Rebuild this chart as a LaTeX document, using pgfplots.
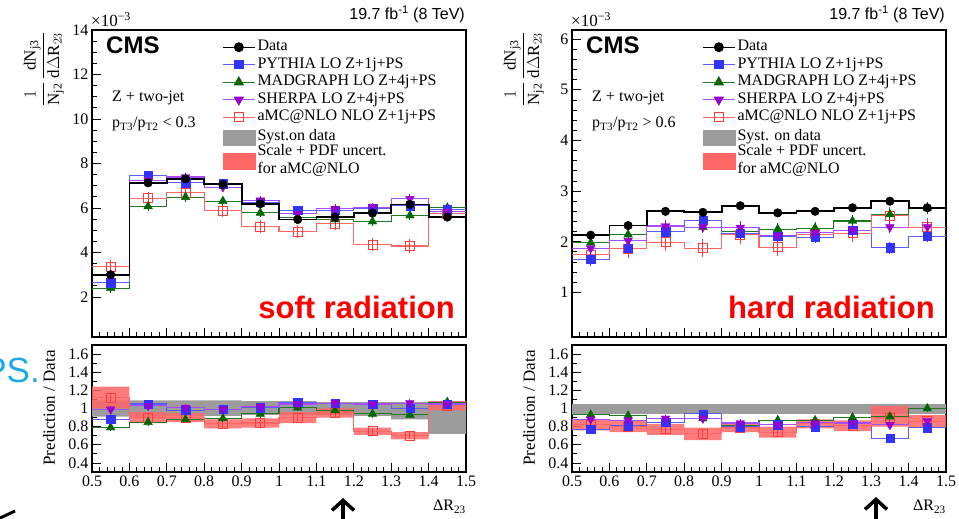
\documentclass[border=0pt]{standalone}
\usepackage{pgfplots}
\pgfplotsset{compat=1.18}
\usepackage{pgfplotstable}
\usetikzlibrary{arrows.meta}
\usepackage{fontspec}
\setmainfont{Liberation Serif}
\newfontfamily\helv{Liberation Sans}
\definecolor{cblue}{HTML}{3333FF}
\definecolor{cblueL}{HTML}{5C5CFF}
\definecolor{cgreen}{HTML}{006600}
\definecolor{cgreenL}{HTML}{1F7A1F}
\definecolor{cpurple}{HTML}{9900CC}
\definecolor{cpurpleL}{HTML}{A64DFF}
\definecolor{cred}{HTML}{FF3B3B}
\definecolor{credL}{HTML}{FF6666}
\definecolor{cband}{HTML}{FF6666}
\definecolor{cgray}{HTML}{9C9C9C}
\definecolor{ccyan}{HTML}{1BA8E6}
\newcommand\lf{\fontsize{16}{18}\selectfont}

\pgfplotstableread{
lo c dat py mg sh amc ed em ea
0.5 0.55 3.00 2.64 2.40 2.95 3.37 0.06 0.20 0.30
0.6 0.65 7.13 7.46 6.07 7.24 6.44 0.10 0.20 0.30
0.7 0.75 7.31 7.13 6.49 7.39 6.68 0.10 0.20 0.30
0.8 0.85 7.06 7.09 6.31 6.94 5.89 0.10 0.20 0.30
0.9 0.95 6.19 6.26 5.78 6.34 5.17 0.10 0.20 0.30
1.0 1.05 5.48 5.89 5.59 5.74 4.94 0.10 0.20 0.30
1.1 1.15 5.59 5.89 5.48 5.96 5.29 0.10 0.20 0.30
1.2 1.25 5.77 5.96 5.39 6.04 4.35 0.10 0.20 0.30
1.3 1.35 6.16 6.11 5.66 6.41 4.29 0.10 0.20 0.30
1.4 1.45 5.59 5.92 6.01 5.84 5.74 0.10 0.20 0.30
1.5 1.55 5.59 5.92 6.01 5.84 5.74 0 0 0
}\softU

\pgfplotstableread{
lo c py mg sh amc e
0.5 0.55 0.88 0.79 0.99 1.12 0.04
0.6 0.65 1.05 0.85 1.03 0.90 0.04
0.7 0.75 0.98 0.88 1.01 0.90 0.04
0.8 0.85 0.99 0.89 0.99 0.83 0.04
0.9 0.95 1.01 0.94 1.02 0.84 0.04
1.0 1.05 1.07 1.01 1.05 0.90 0.04
1.1 1.15 1.06 0.98 1.06 0.95 0.04
1.2 1.25 1.05 0.94 1.05 0.75 0.04
1.3 1.35 1.00 0.93 1.06 0.70 0.04
1.4 1.45 1.05 1.07 1.05 1.03 0.04
1.5 1.55 1.05 1.07 1.05 1.03 0
}\softR

\pgfplotstableread{
lo c dat py mg sh amc ed em ea
0.5 0.55 2.13 1.65 1.98 1.87 1.74 0.05 0.12 0.18
0.6 0.65 2.32 1.87 2.14 2.02 1.86 0.05 0.12 0.18
0.7 0.75 2.60 2.20 2.20 2.31 1.99 0.05 0.12 0.18
0.8 0.85 2.58 2.42 2.29 2.29 1.87 0.05 0.12 0.18
0.9 0.95 2.71 2.17 2.20 2.28 2.14 0.05 0.12 0.18
1.0 1.05 2.57 2.11 2.25 2.12 1.89 0.05 0.12 0.18
1.1 1.15 2.60 2.09 2.27 2.18 2.15 0.05 0.12 0.18
1.2 1.25 2.67 2.23 2.41 2.23 2.17 0.05 0.12 0.18
1.3 1.35 2.80 1.88 2.54 2.29 2.51 0.05 0.12 0.18
1.4 1.45 2.67 2.11 2.67 2.29 2.29 0.05 0.12 0.18
1.5 1.55 2.67 2.11 2.67 2.29 2.29 0 0 0
}\hardU

\pgfplotstableread{
lo c py mg sh amc e
0.5 0.55 0.77 0.93 0.88 0.82 0.04
0.6 0.65 0.81 0.92 0.87 0.80 0.04
0.7 0.75 0.85 0.85 0.89 0.77 0.04
0.8 0.85 0.94 0.89 0.89 0.72 0.04
0.9 0.95 0.80 0.81 0.84 0.79 0.04
1.0 1.05 0.82 0.87 0.82 0.74 0.04
1.1 1.15 0.80 0.87 0.84 0.83 0.04
1.2 1.25 0.83 0.90 0.84 0.81 0.04
1.3 1.35 0.67 0.91 0.82 0.90 0.04
1.4 1.45 0.79 1.00 0.86 0.86 0.04
1.5 1.55 0.79 1.00 0.86 0.86 0
}\hardR

\pgfplotsset{
 cmsax/.style={
  scale only axis, width=374pt, anchor=south west,
  xmin=0.5, xmax=1.5,
  xtick={0.5,0.6,0.7,0.8,0.9,1,1.1,1.2,1.3,1.4,1.5},
  minor x tick num=4,
  tick align=inside, xtick pos=left, ytick pos=left,
  axis line style={line width=1.3pt},
  tick style={black, line width=0.8pt},
  major tick length=9pt, minor tick length=4.5pt,
  tick label style={font=\lf},
  /pgf/number format/assume math mode=true,
  scaled y ticks=false,
 },
 hist/.style={const plot mark left, no marks, forget plot, line width=1.1pt},
 mk/.style={only marks, forget plot, skip coords between index={10}{11},
   error bars/.cd, y dir=both, y explicit, error mark=none,
   error bar style={line width=0.9pt}},
 legimg/.style={legend image code/.code={\draw[mark repeat=2,mark phase=2,##1] plot coordinates {(0pt,0pt)(16pt,0pt)(32pt,0pt)};}},
 boxgray/.style={legend image code/.code={\fill[cgray,overlay] (0pt,-10pt) rectangle (32pt,5pt); \path[draw=none,fill=none] (0pt,0pt) -- (32pt,0pt);}},
 boxred/.style={legend image code/.code={\fill[cband,overlay] (0pt,-17pt) rectangle (32pt,-1pt); \path[draw=none,fill=none] (0pt,0pt) -- (32pt,0pt);}},
 cmsleg/.style={legend style={at={(0.3476,0.973)}, anchor=north west, draw=none, fill=none,
   inner sep=0pt, row sep=0pt, font=\lf,
   nodes={inner xsep=2pt, inner ysep=1.5pt, text height=11pt, text depth=3.5pt}},
   legend cell align=left},
}

\begin{document}
\begin{tikzpicture}
\useasboundingbox (0pt,0pt) rectangle (959pt,519pt);

% ---------------- LEFT UPPER ----------------
\begin{axis}[cmsax, at={(92pt,182pt)}, height=307pt, ymin=0.2, ymax=14,
  ytick={2,4,6,8,10,12,14}, minor y tick num=3, xticklabels={}, cmsleg]
\addplot[hist, cgreenL] table[x=lo,y=mg]{\softU};
\addplot[hist, cblueL] table[x=lo,y=py]{\softU};
\addplot[hist, cpurpleL] table[x=lo,y=sh]{\softU};
\addplot[hist, credL] table[x=lo,y=amc]{\softU};
\addplot[hist, black, line width=1.8pt] table[x=lo,y=dat]{\softU};
\addplot[cred, mark=square, mark size=4.5pt, mark options={line width=0.8pt}, mk] table[x=c,y=amc,y error=ea]{\softU};
\addplot[cgreen, mark=triangle*, mark size=5pt, mk] table[x=c,y=mg,y error=em]{\softU};
\addplot[cblue, mark=square*, mark size=4.2pt, mk] table[x=c,y=py,y error=em]{\softU};
\addplot[cpurple, mark=triangle*, mark size=5pt, mark options={rotate=180}, mk] table[x=c,y=sh,y error=em]{\softU};
\addplot[black, mark=*, mark size=4.3pt, mk] table[x=c,y=dat,y error=ed]{\softU};
\addlegendimage{legimg, black, line width=1.3pt, mark=*, mark size=4.3pt}
\addlegendentry{Data}
\addlegendimage{legimg, cblueL, line width=1.1pt, mark=square*, mark size=4.2pt, mark options={cblue}}
\addlegendentry{PYTHIA LO Z+1j+PS}
\addlegendimage{legimg, cgreenL, line width=1.1pt, mark=triangle*, mark size=5pt, mark options={cgreen}}
\addlegendentry{MADGRAPH LO Z+4j+PS}
\addlegendimage{legimg, cpurpleL, line width=1.1pt, mark=triangle*, mark size=5pt, mark options={cpurple,rotate=180}}
\addlegendentry{SHERPA LO Z+4j+PS}
\addlegendimage{legimg, credL, line width=1.1pt, mark=square, mark size=4.5pt, mark options={cred,fill=white}}
\addlegendentry{aMC@NLO NLO Z+1j+PS}
\addlegendimage{boxgray}
\addlegendentry{\raisebox{-2pt}{Syst.on data}}
\addlegendimage{boxred}
\addlegendentry{Scale + PDF uncert.}
\addlegendimage{empty legend}
\addlegendentry{for aMC@NLO}
\end{axis}

% ---------------- LEFT RATIO ----------------
\begin{axis}[cmsax, at={(92pt,47pt)}, height=127pt, ymin=0.3, ymax=1.7,
  ytick={0.4,0.6,0.8,1,1.2,1.4,1.6}, minor y tick num=1]
\addplot[fill=cgray, draw=none, forget plot] coordinates {(0.5,1.09)(0.9,1.09)(0.9,1.08)(1.1,1.08)(1.1,1.07)(1.4,1.07)(1.4,1.08)(1.5,1.08)
 (1.5,0.72)(1.4,0.72)(1.4,0.88)(1.3,0.88)(1.3,0.92)(1.2,0.92)(1.2,0.93)(0.9,0.93)(0.9,0.92)(0.7,0.92)(0.7,0.91)(0.5,0.91)} -- cycle;
\addplot[fill=cband, fill opacity=0.85, draw=none, forget plot] coordinates {(0.5,1.24)(0.6,1.24)(0.6,0.96)(0.7,0.96)(0.7,0.95)(0.8,0.95)(0.8,0.88)(0.9,0.88)(0.9,0.89)(1.0,0.89)(1.0,0.96)(1.1,0.96)(1.1,1.00)(1.2,1.00)(1.2,0.79)(1.3,0.79)(1.3,0.74)(1.4,0.74)(1.4,1.08)(1.5,1.08)
 (1.5,0.98)(1.4,0.98)(1.4,0.66)(1.3,0.66)(1.3,0.71)(1.2,0.71)(1.2,0.90)(1.1,0.90)(1.1,0.84)(1.0,0.84)(1.0,0.79)(0.9,0.79)(0.9,0.78)(0.8,0.78)(0.8,0.85)(0.7,0.85)(0.7,0.84)(0.6,0.84)(0.6,1.00)(0.5,1.00)} -- cycle;
\addplot[hist, cgreenL] table[x=lo,y=mg]{\softR};
\addplot[hist, cblueL] table[x=lo,y=py]{\softR};
\addplot[hist, cpurpleL] table[x=lo,y=sh]{\softR};
\addplot[hist, credL] table[x=lo,y=amc]{\softR};
\addplot[cred, mark=square, mark size=4.5pt, mark options={line width=0.8pt}, mk] table[x=c,y=amc,y error=e]{\softR};
\addplot[cgreen, mark=triangle*, mark size=5pt, mk] table[x=c,y=mg,y error=e]{\softR};
\addplot[cblue, mark=square*, mark size=4.2pt, mk] table[x=c,y=py,y error=e]{\softR};
\addplot[cpurple, mark=triangle*, mark size=5pt, mark options={rotate=180}, mk] table[x=c,y=sh,y error=e]{\softR};
\end{axis}

% ---------------- RIGHT UPPER ----------------
\begin{axis}[cmsax, at={(572pt,182pt)}, height=307pt, ymin=0.12, ymax=6.18,
  ytick={1,2,3,4,5,6}, minor y tick num=4, xticklabels={}, cmsleg]
\addplot[hist, cgreenL] table[x=lo,y=mg]{\hardU};
\addplot[hist, cblueL] table[x=lo,y=py]{\hardU};
\addplot[hist, cpurpleL] table[x=lo,y=sh]{\hardU};
\addplot[hist, credL] table[x=lo,y=amc]{\hardU};
\addplot[hist, black, line width=1.8pt] table[x=lo,y=dat]{\hardU};
\addplot[cred, mark=square, mark size=4.5pt, mark options={line width=0.8pt}, mk] table[x=c,y=amc,y error=ea]{\hardU};
\addplot[cgreen, mark=triangle*, mark size=5pt, mk] table[x=c,y=mg,y error=em]{\hardU};
\addplot[cblue, mark=square*, mark size=4.2pt, mk] table[x=c,y=py,y error=em]{\hardU};
\addplot[cpurple, mark=triangle*, mark size=5pt, mark options={rotate=180}, mk] table[x=c,y=sh,y error=em]{\hardU};
\addplot[black, mark=*, mark size=4.3pt, mk] table[x=c,y=dat,y error=ed]{\hardU};
\addlegendimage{legimg, black, line width=1.3pt, mark=*, mark size=4.3pt}
\addlegendentry{Data}
\addlegendimage{legimg, cblueL, line width=1.1pt, mark=square*, mark size=4.2pt, mark options={cblue}}
\addlegendentry{PYTHIA LO Z+1j+PS}
\addlegendimage{legimg, cgreenL, line width=1.1pt, mark=triangle*, mark size=5pt, mark options={cgreen}}
\addlegendentry{MADGRAPH LO Z+4j+PS}
\addlegendimage{legimg, cpurpleL, line width=1.1pt, mark=triangle*, mark size=5pt, mark options={cpurple,rotate=180}}
\addlegendentry{SHERPA LO Z+4j+PS}
\addlegendimage{legimg, credL, line width=1.1pt, mark=square, mark size=4.5pt, mark options={cred,fill=white}}
\addlegendentry{aMC@NLO NLO Z+1j+PS}
\addlegendimage{boxgray}
\addlegendentry{\raisebox{-2pt}{Syst. on data}}
\addlegendimage{boxred}
\addlegendentry{Scale + PDF uncert.}
\addlegendimage{empty legend}
\addlegendentry{for aMC@NLO}
\end{axis}

% ---------------- RIGHT RATIO ----------------
\begin{axis}[cmsax, at={(572pt,47pt)}, height=127pt, ymin=0.3, ymax=1.7,
  ytick={0.4,0.6,0.8,1,1.2,1.4,1.6}, minor y tick num=1]
\addplot[fill=cgray, draw=none, forget plot] coordinates {(0.5,0.94)(1.5,0.94)(1.5,1.05)(0.5,1.05)} -- cycle;
\addplot[fill=cband, fill opacity=0.85, draw=none, forget plot] coordinates {(0.5,0.88)(0.6,0.88)(0.6,0.86)(0.7,0.86)(0.7,0.83)(0.8,0.83)(0.8,0.79)(0.9,0.79)(0.9,0.84)(1.0,0.84)(1.0,0.80)(1.1,0.80)(1.1,0.88)(1.2,0.88)(1.2,0.87)(1.3,0.87)(1.3,1.03)(1.4,1.03)(1.4,0.93)(1.5,0.93)
 (1.5,0.79)(1.4,0.79)(1.4,0.80)(1.3,0.80)(1.3,0.75)(1.2,0.75)(1.2,0.78)(1.1,0.78)(1.1,0.68)(1.0,0.68)(1.0,0.74)(0.9,0.74)(0.9,0.65)(0.8,0.65)(0.8,0.71)(0.7,0.71)(0.7,0.74)(0.6,0.74)(0.6,0.76)(0.5,0.76)} -- cycle;
\addplot[hist, cgreenL] table[x=lo,y=mg]{\hardR};
\addplot[hist, cblueL] table[x=lo,y=py]{\hardR};
\addplot[hist, cpurpleL] table[x=lo,y=sh]{\hardR};
\addplot[hist, credL] table[x=lo,y=amc]{\hardR};
\addplot[cred, mark=square, mark size=4.5pt, mark options={line width=0.8pt}, mk] table[x=c,y=amc,y error=e]{\hardR};
\addplot[cgreen, mark=triangle*, mark size=5pt, mk] table[x=c,y=mg,y error=e]{\hardR};
\addplot[cblue, mark=square*, mark size=4.2pt, mk] table[x=c,y=py,y error=e]{\hardR};
\addplot[cpurple, mark=triangle*, mark size=5pt, mark options={rotate=180}, mk] table[x=c,y=sh,y error=e]{\hardR};
\end{axis}

% ---------------- annotations ----------------
\foreach \dx/\cut/\rad in {0/{<~0.3}/soft, 480/{>~0.6}/hard}{
  \node[anchor=base west, inner sep=0pt, font=\fontsize{17}{19}\selectfont] at (91pt+\dx pt,492pt) {×10\textsuperscript{−3}};
  \node[anchor=base west, inner sep=0pt, font=\helv\bfseries\fontsize{24}{26}\selectfont] at (106pt+\dx pt,465pt) {CMS};
  \node[anchor=base east, inner sep=0pt, font=\helv\fontsize{16}{18}\selectfont] at (465pt+\dx pt,499pt) {19.7 fb\textsuperscript{-1} (8 TeV)};
  \node[anchor=base west, inner sep=0pt, font=\lf] at (112pt+\dx pt,417pt) {Z + two-jet};
  \node[anchor=base west, inner sep=0pt, font=\lf] at (112pt+\dx pt,391pt) {p\textsubscript{T3}/p\textsubscript{T2} \cut};
  \node[anchor=base east, inner sep=0pt, text=red, font=\helv\bfseries\fontsize{31}{33}\selectfont] at (455pt+\dx pt,200pt) {\rad\ radiation};
  \node[rotate=90, inner sep=0pt, font=\fontsize{17}{19}\selectfont] at (44pt+\dx pt,450pt) {$\displaystyle\frac{1}{\mathrm{N}_{\mathrm{j2}}}\,\frac{\mathrm{dN}_{\mathrm{j3}}}{\mathrm{d}\Delta\mathrm{R}_{23}}$};
  \node[rotate=90, inner sep=0pt, font=\fontsize{17}{19}\selectfont] at (49pt+\dx pt,111pt) {Prediction / Data};
  \node[anchor=base east, inner sep=0pt, font=\lf] at (466pt+\dx pt,8pt) {ΔR\textsubscript{23}};
}
\node[anchor=base east, inner sep=0pt, text=ccyan, font=\helv\fontsize{35}{37}\selectfont] at (40pt,136pt) {PS.};
\draw[line width=3.5pt, -{Straight Barb[length=10pt,width=22pt,line width=3.5pt]}] (343pt,-2pt) -- (343pt,21pt);
\draw[line width=3.5pt, -{Straight Barb[length=10pt,width=22pt,line width=3.5pt]}] (876pt,-2pt) -- (876pt,22pt);
\draw[line width=3pt] (-2pt,0pt) -- (15pt,8pt);
\end{tikzpicture}
\end{document}
